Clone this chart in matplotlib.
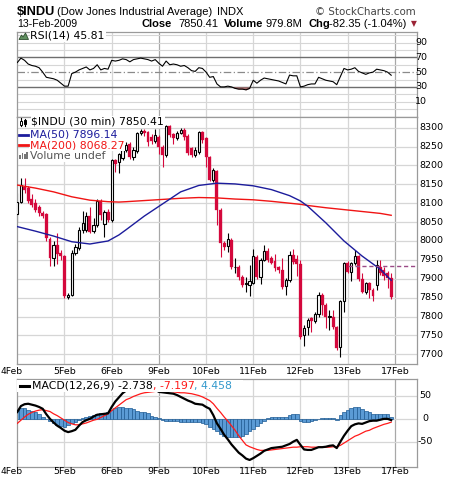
import matplotlib
matplotlib.use("Agg")
import matplotlib.pyplot as plt
from matplotlib.patches import Rectangle, Polygon
from matplotlib.lines import Line2D
from matplotlib.transforms import blended_transform_factory as blend
import numpy as np

# ---------------- data ----------------
day_labels = ["4Feb", "5Feb", "6Feb", "9Feb", "10Feb", "11Feb", "12Feb", "13Feb", "17Feb"]
day_bars = [0, 13, 26, 39, 52, 65, 78, 91, 104]
week_start = [True, False, False, True, False, False, False, False, True]

opens = [8071, 8104, 8144, 8140, 8110, 8100, 8090, 8073, 8071, 8005, 7954, 7989, 7969,
         7960, 7851, 7858, 7969, 7981, 8029, 8030, 8066, 8027, 8042, 8106, 8045, 8078,
         8056, 8214, 8208, 8220, 8240, 8256, 8222, 8238, 8285, 8292, 8288, 8276, 8265,
         8275, 8250, 8228, 8305, 8282, 8272, 8286, 8295, 8278, 8245, 8228, 8236, 8289,
         8272, 8223, 8161, 8184, 8082, 7994, 7987, 8002, 7930, 7930, 7905, 7886, 7884,
         7888, 7957, 7904, 7950, 7974, 7954, 7948, 7930, 7923, 7881, 7897, 7963, 7952,
         7940, 7751, 7771, 7796, 7787, 7807, 7857, 7831, 7800, 7800, 7772, 7720, 7841,
         7941, 7919, 7941, 7959, 7899, 7866, 7888, 7870, 7884, 7932, 7924, 7915, 7902]
highs = [8126, 8166, 8166, 8146, 8124, 8110, 8096, 8080, 8074, 8010, 8000, 8020, 7975,
         7962, 7862, 7975, 7992, 8036, 8080, 8076, 8090, 8060, 8110, 8110, 8082, 8084,
         8216, 8218, 8233, 8260, 8262, 8262, 8248, 8288, 8296, 8296, 8290, 8282, 8296,
         8280, 8255, 8306, 8308, 8286, 8290, 8300, 8298, 8282, 8250, 8248, 8292, 8292,
         8276, 8226, 8192, 8188, 8086, 8000, 8022, 8008, 7954, 7936, 7910, 7905, 7937,
         7978, 7962, 7955, 7990, 7982, 7960, 7966, 7934, 7954, 7902, 7974, 7980, 7963,
         7950, 7778, 7795, 7800, 7812, 7866, 7862, 7836, 7818, 7818, 7776, 7845, 7945,
         7946, 7945, 7976, 7962, 7915, 7892, 7892, 7876, 7950, 7950, 7930, 7920, 7914]
lows = [8051, 8100, 8128, 8100, 8090, 8078, 8066, 8060, 8000, 7934, 7935, 7940, 7950,
        7848, 7846, 7855, 7962, 7976, 8022, 8025, 8020, 8022, 8038, 8056, 8011, 8050,
        8050, 8182, 8180, 8215, 8236, 8218, 8215, 8232, 8280, 8278, 8252, 8258, 8260,
        8230, 8196, 8222, 8275, 8258, 8266, 8282, 8267, 8227, 8222, 8222, 8230, 8260,
        8196, 8158, 8156, 8042, 7958, 7976, 7972, 7925, 7914, 7896, 7878, 7866, 7855,
        7887, 7900, 7886, 7946, 7944, 7938, 7920, 7915, 7874, 7857, 7892, 7940, 7906,
        7740, 7722, 7751, 7760, 7782, 7800, 7804, 7769, 7765, 7768, 7712, 7694, 7813,
        7915, 7893, 7936, 7895, 7862, 7860, 7850, 7842, 7870, 7910, 7898, 7875, 7846]
closes = [8104, 8149, 8135, 8106, 8096, 8082, 8073, 8065, 8007, 7955, 7989, 7966, 7959,
          7854, 7858, 7969, 7983, 8029, 8047, 8066, 8025, 8042, 8106, 8069, 8076, 8056,
          8214, 8205, 8230, 8240, 8254, 8222, 8240, 8285, 8292, 8286, 8262, 8265, 8280,
          8250, 8228, 8304, 8280, 8272, 8285, 8295, 8276, 8232, 8228, 8240, 8289, 8267,
          8223, 8161, 8188, 8082, 7994, 7985, 8004, 7932, 7931, 7905, 7883, 7888, 7893,
          7960, 7905, 7950, 7974, 7950, 7943, 7928, 7923, 7879, 7897, 7963, 7945, 7940,
          7747, 7769, 7791, 7787, 7807, 7857, 7831, 7800, 7801, 7772, 7716, 7841, 7941,
          7919, 7941, 7959, 7899, 7866, 7888, 7870, 7855, 7937, 7915, 7908, 7902, 7850.41]
prev_close = 7932.76

ma_bars = [0, 5, 10, 15, 20, 25, 28, 30, 35, 40, 45, 50, 55, 60, 65, 70, 75, 78, 80, 85, 90, 95, 100, 103]
ma50 = [8038, 8026, 8013, 7998, 7992, 8000, 8016, 8030, 8066, 8098, 8130, 8147, 8153, 8151,
        8146, 8136, 8120, 8106, 8092, 8048, 8000, 7960, 7925, 7896]
ma200 = [8148, 8140, 8130, 8117, 8108, 8104, 8103, 8104, 8107, 8110, 8113, 8115, 8114, 8111,
         8109, 8105, 8100, 8097, 8094, 8088, 8083, 8078, 8073, 8068]

rsi = [63, 69, 66, 61, 59, 58, 56, 50, 43, 42, 41, 39, 35,
       31, 31, 48, 50, 53, 55, 57, 53, 55, 60, 53, 55, 54,
       66, 65, 66, 68, 67, 64, 67, 68, 69, 68, 67, 65, 67,
       62, 58, 65, 60, 61, 60, 58, 59, 56, 52, 51, 56, 55,
       50, 43, 44, 34, 30, 30, 31, 30, 28, 27, 27, 26, 28,
       39, 35, 39, 42, 41, 40, 39, 38, 36, 34, 46, 45, 45,
       30, 31, 33, 34, 34, 43, 41, 39, 38, 37, 33, 44, 55,
       53, 54, 56, 51, 49, 47, 49, 50, 54, 53, 52, 50, 45.81]

macd = [15, 28, 32, 33, 31, 29, 26, 22, 10, 0, -8, -15, -20,
        -26, -29, -27, -24, -15, -7, -3, 0, 5, 9, 10, 11, 12,
        26, 38, 47, 56, 62, 66, 70, 73, 74, 73, 71, 68, 64,
        59, 58, 57, 56, 55, 52, 48, 44, 40, 37, 33, 32, 31,
        26, 22, 8, -10, -22, -35, -45, -56, -65, -74, -80, -87, -90,
        -86, -81, -76, -70, -67, -64, -63, -62, -61, -58, -55, -50, -46,
        -57, -67, -68, -68, -65, -62, -62, -61, -59, -58, -64, -50, -37,
        -26, -16, -12, -10, -11, -8, -5, -4, -4, -2, 0, 0, -2.738]
signal = [-10, -3, 4, 10, 14, 17, 19, 20, 18, 16, 11, 7, 2,
          -3, -8, -11, -13, -13, -11, -9, -6, -3, -1, 3, 7, 11,
          18, 24, 30, 36, 42, 45, 49, 52, 55, 57, 58, 59, 60,
          61, 61, 61, 60, 59, 58, 57, 57, 56, 55, 53, 51, 48,
          44, 40, 33, 23, 14, 4, -5, -15, -25, -37, -47, -57, -61,
          -64, -67, -69, -69, -69, -68, -67, -66, -65, -64, -63, -62, -62,
          -61, -61, -61, -62, -62, -62, -62, -62, -62, -61, -61, -58, -53,
          -48, -43, -38, -35, -31, -27, -25, -21, -18, -15, -12, -10, -7.197]
hist = [22, 24, 24, 20, 18, 15, 11, 5, 0, -4, -10, -14, -16,
        -17, -14, -10, -6, -2, 1, 5, 6, 8, 11, 12, 13, 15,
        20, 23, 25, 26, 24, 23, 21, 18, 16, 14, 12, 7, 5,
        2, -2, -4, -4, -5, -5, -6, -7, -7, -7, -7, -7, -9,
        -12, -17, -22, -27, -33, -38, -40, -40, -40, -39, -37, -33, -27,
        -22, -16, -10, -4, 1, 3, 4, 4, 4, 5, 8, 10, 11,
        -5, -7, -7, -5, -2, 0, 1, 1, 1, 1, -2, 8, 15,
        20, 23, 26, 26, 22, 17, 14, 11, 11, 11, 11, 10, 4.458]

price_ticks = [7700, 7750, 7800, 7850, 7900, 7950, 8000, 8050, 8100, 8150, 8200, 8250, 8300]
rsi_ticks = [10, 30, 50, 70, 90]
macd_ticks = [-50, 0, 50]

# ---------------- figure ----------------
W, H = 460, 482
fig = plt.figure(figsize=(W / 100, H / 100), dpi=100)
fig.patch.set_facecolor("white")
plt.rcParams["font.family"] = ["DejaVu Sans"]


def fx(p):
    return p / W


def fy(p):
    return 1 - p / H


L_PX, R_PX = 16.5, 417.0
X0, STEP = 17.3, 3.63
XMIN = (L_PX - X0) / STEP
XMAX = (R_PX - X0) / STEP
GRID = "#d6d6d6"
RED = "#d4083c"


def make_ax(top, bottom, ylim):
    ax = fig.add_axes([fx(L_PX), fy(bottom), (R_PX - L_PX) / W, (bottom - top) / H])
    ax.set_xlim(XMIN, XMAX)
    ax.set_ylim(*ylim)
    ax.set_xticks([])
    ax.set_yticks([])
    for s in ax.spines.values():
        s.set_color("#9a9a9a")
        s.set_linewidth(0.9)
    for d, wk in zip(day_bars[1:], week_start[1:]):
        ax.axvline(d, color="#a8a8a8" if wk else GRID, lw=0.9, zorder=0)
    return ax


def right_labels(ax, vals, x_px, ha):
    tr = blend(fig.transFigure, ax.transData)
    for v in vals:
        ax.text(fx(x_px), v, "%d" % v, transform=tr, ha=ha, va="center",
                fontsize=6.8, clip_on=False)


def date_labels(ax, y_px):
    tr = blend(ax.transData, fig.transFigure)
    for b, s in zip(day_bars, day_labels):
        if b == 0:
            fig.text(fx(0.5), fy(y_px), s, ha="left", va="center", fontsize=6.6)
        else:
            ax.text(b, fy(y_px), s, transform=tr, ha="center", va="center",
                    fontsize=6.8, clip_on=False)


idx = np.arange(len(closes))

# ---------- RSI panel ----------
ax_rsi = make_ax(32, 116.7, (-10.4, 104.4))
for v in range(0, 101, 10):
    if v not in (30, 50, 70):
        ax_rsi.axhline(v, color=GRID, lw=0.8, zorder=0)
ax_rsi.axhline(70, color="#6e6e6e", lw=1.0, zorder=1)
ax_rsi.axhline(30, color="#6e6e6e", lw=1.0, zorder=1)
ax_rsi.axhline(50, color="#8a8a8a", lw=0.9, ls=(0, (6, 2, 1, 2)), zorder=1)
r = np.array(rsi, dtype=float)
ax_rsi.fill_between(idx, r, 30, where=r < 30, interpolate=True, color="#a86a6a", zorder=2, lw=0)
ax_rsi.plot(idx, r, color="black", lw=0.8, zorder=3)
right_labels(ax_rsi, rsi_ticks, 421, "center")

# ---------- price panel ----------
ax_main = make_ax(116.7, 364, (7674.3, 8329))
for v in price_ticks:
    ax_main.axhline(v, color=GRID, lw=0.9, zorder=0)
o = np.array(opens, dtype=float)
c = np.array(closes, dtype=float)
h = np.array(highs, dtype=float)
l = np.array(lows, dtype=float)
up = c >= o
ax_main.vlines(idx[up], l[up], h[up], color="black", lw=0.8, zorder=2)
ax_main.vlines(idx[~up], l[~up], h[~up], color=RED, lw=0.8, zorder=2)
body = np.maximum(np.abs(c - o), 1.2)
bot = np.minimum(o, c)
ax_main.bar(idx[up], body[up], bottom=bot[up], width=0.62, facecolor="white",
            edgecolor="black", lw=0.8, zorder=3)
ax_main.bar(idx[~up], body[~up], bottom=bot[~up], width=0.8, facecolor=RED,
            edgecolor=RED, lw=0.2, zorder=3)
ax_main.plot(ma_bars, ma200, color="#f01414", lw=1.0, zorder=4)
ax_main.plot(ma_bars, ma50, color="#1c1c9c", lw=1.0, zorder=4)
ax_main.hlines(prev_close, day_bars[-2], XMAX, colors="#9a4a86", linestyles=(0, (3, 2)),
               lw=1.0, zorder=4)
right_labels(ax_main, price_ticks, 419, "left")
date_labels(ax_main, 372)

# ---------- MACD panel ----------
ax_macd = make_ax(379.3, 466.7, (-104.7, 86.5))
for v in macd_ticks:
    ax_macd.axhline(v, color=GRID, lw=0.9, zorder=0)
ax_macd.bar(idx, hist, width=1.0, facecolor="#5b9bd5", edgecolor="#1f5b93", lw=0.5, zorder=2)
ax_macd.plot(idx, signal, color="#ff1a1a", lw=0.9, zorder=3)
ax_macd.plot(idx, macd, color="black", lw=1.6, zorder=4)
right_labels(ax_macd, macd_ticks, 425, "center")
date_labels(ax_macd, 472)

# ---------------- header texts ----------------
fig.text(fx(17), fy(15), "$INDU", fontsize=9.2, fontweight="bold",
         family="Liberation Sans", va="baseline")
fig.text(fx(57), fy(15), "(Dow Jones Industrial Average)", fontsize=8,
         family="Liberation Sans", va="baseline")
fig.text(fx(217), fy(15), "INDX", fontsize=8, family="Liberation Sans", va="baseline")
fig.text(fx(416), fy(15), "\u00a9 StockCharts.com", fontsize=7.4, color="#444444",
         family="DejaVu Sans", va="baseline", ha="right")
fig.text(fx(17), fy(27), "13-Feb-2009", fontsize=7.6, family="Liberation Sans", va="baseline")

pieces = [("Close", True, 172), ("7850.41", False, 218), ("Volume", True, 263),
          ("979.8M", False, 302), ("Chg", True, 330), ("-82.35 (-1.04%)", False, 406)]
for s, bold, xr in pieces:
    fig.text(fx(xr), fy(27), s, fontsize=8, family="Liberation Sans",
             fontweight="bold" if bold else "normal", va="baseline", ha="right")
fig.text(fx(417), fy(26.5), "\u25bc", fontsize=5.5, color="#9b2335", va="baseline", ha="right",
         family="DejaVu Sans")

# ---------------- legends ----------------
renderer = fig.canvas.get_renderer()
WHITE = dict(facecolor="white", edgecolor="none", pad=0.6)

# RSI legend
fig.patches.append(Polygon([(fx(19), fy(39.5)), (fx(21.5), fy(35)), (fx(23), fy(37)),
                            (fx(25.5), fy(33)), (fx(28.5), fy(39.5))], closed=True,
                           facecolor="#5f8f5f", edgecolor="#2d4d2d", lw=0.6,
                           transform=fig.transFigure, zorder=3))
fig.text(fx(30.5), fy(36), "RSI(14) 45.81", fontsize=7.8, va="center", bbox=WHITE, zorder=3)

# price legend
fig.lines.append(Line2D([fx(21), fx(21)], [fy(118), fy(126)], color="black", lw=0.8,
                        transform=fig.transFigure, zorder=4))
fig.patches.append(Rectangle((fx(20), fy(124.5)), fx(2), 4 / H, facecolor="white",
                             edgecolor="black", lw=0.7, transform=fig.transFigure, zorder=4))
fig.lines.append(Line2D([fx(25), fx(25)], [fy(118.5), fy(125.5)], color="black", lw=0.8,
                        transform=fig.transFigure, zorder=4))
fig.patches.append(Rectangle((fx(24), fy(123.5)), fx(2), 4 / H, facecolor="black",
                             edgecolor="black", lw=0.7, transform=fig.transFigure, zorder=4))
fig.text(fx(31.5), fy(121.8), "$INDU (30 min) 7850.41", fontsize=7.8, va="center",
         bbox=WHITE, zorder=3)
fig.lines.append(Line2D([fx(19), fx(28)], [fy(134.7), fy(134.7)], color="#1c1c9c", lw=2,
                        transform=fig.transFigure, zorder=4))
fig.text(fx(29.5), fy(134.7), "MA(50) 7896.14", fontsize=7.8, color="#1c1c9c", va="center",
         bbox=WHITE, zorder=3)
fig.lines.append(Line2D([fx(19), fx(28)], [fy(145.3), fy(145.3)], color="#f01414", lw=2,
                        transform=fig.transFigure, zorder=4))
fig.text(fx(29.5), fy(145.3), "MA(200) 8068.27", fontsize=7.8, color="#f01414", va="center",
         bbox=WHITE, zorder=3)
for k, hh in enumerate([4, 6, 5, 7]):
    fig.patches.append(Rectangle((fx(19.5 + 2.2 * k), fy(159.5)), fx(1.7), hh / H,
                                 facecolor="#777777", edgecolor="none",
                                 transform=fig.transFigure, zorder=4))
fig.text(fx(29.5), fy(156.2), "Volume undef", fontsize=7.8, color="#555555", va="center",
         bbox=WHITE, zorder=3)

# MACD legend
fig.patches.append(Rectangle((fx(17.3), fy(391.5)), fx(243 - 17.3), (391.5 - 380.2) / H,
                             facecolor="white", edgecolor="none", transform=fig.transFigure,
                             zorder=2))
fig.lines.append(Line2D([fx(20), fx(29)], [fy(386), fy(386)], color="black", lw=2.2,
                        transform=fig.transFigure, zorder=4))
xpos = 32.0
for s, col in [("MACD(12,26,9) -2.738", "black"), (", -7.197", "#ff1a1a"), (", 4.458", "#3399cc")]:
    t = fig.text(fx(xpos), fy(386), s, fontsize=7.8, color=col, va="center", zorder=4)
    bb = t.get_window_extent(renderer)
    xpos += bb.width

fig.savefig("out.png", dpi=100, facecolor="white")
